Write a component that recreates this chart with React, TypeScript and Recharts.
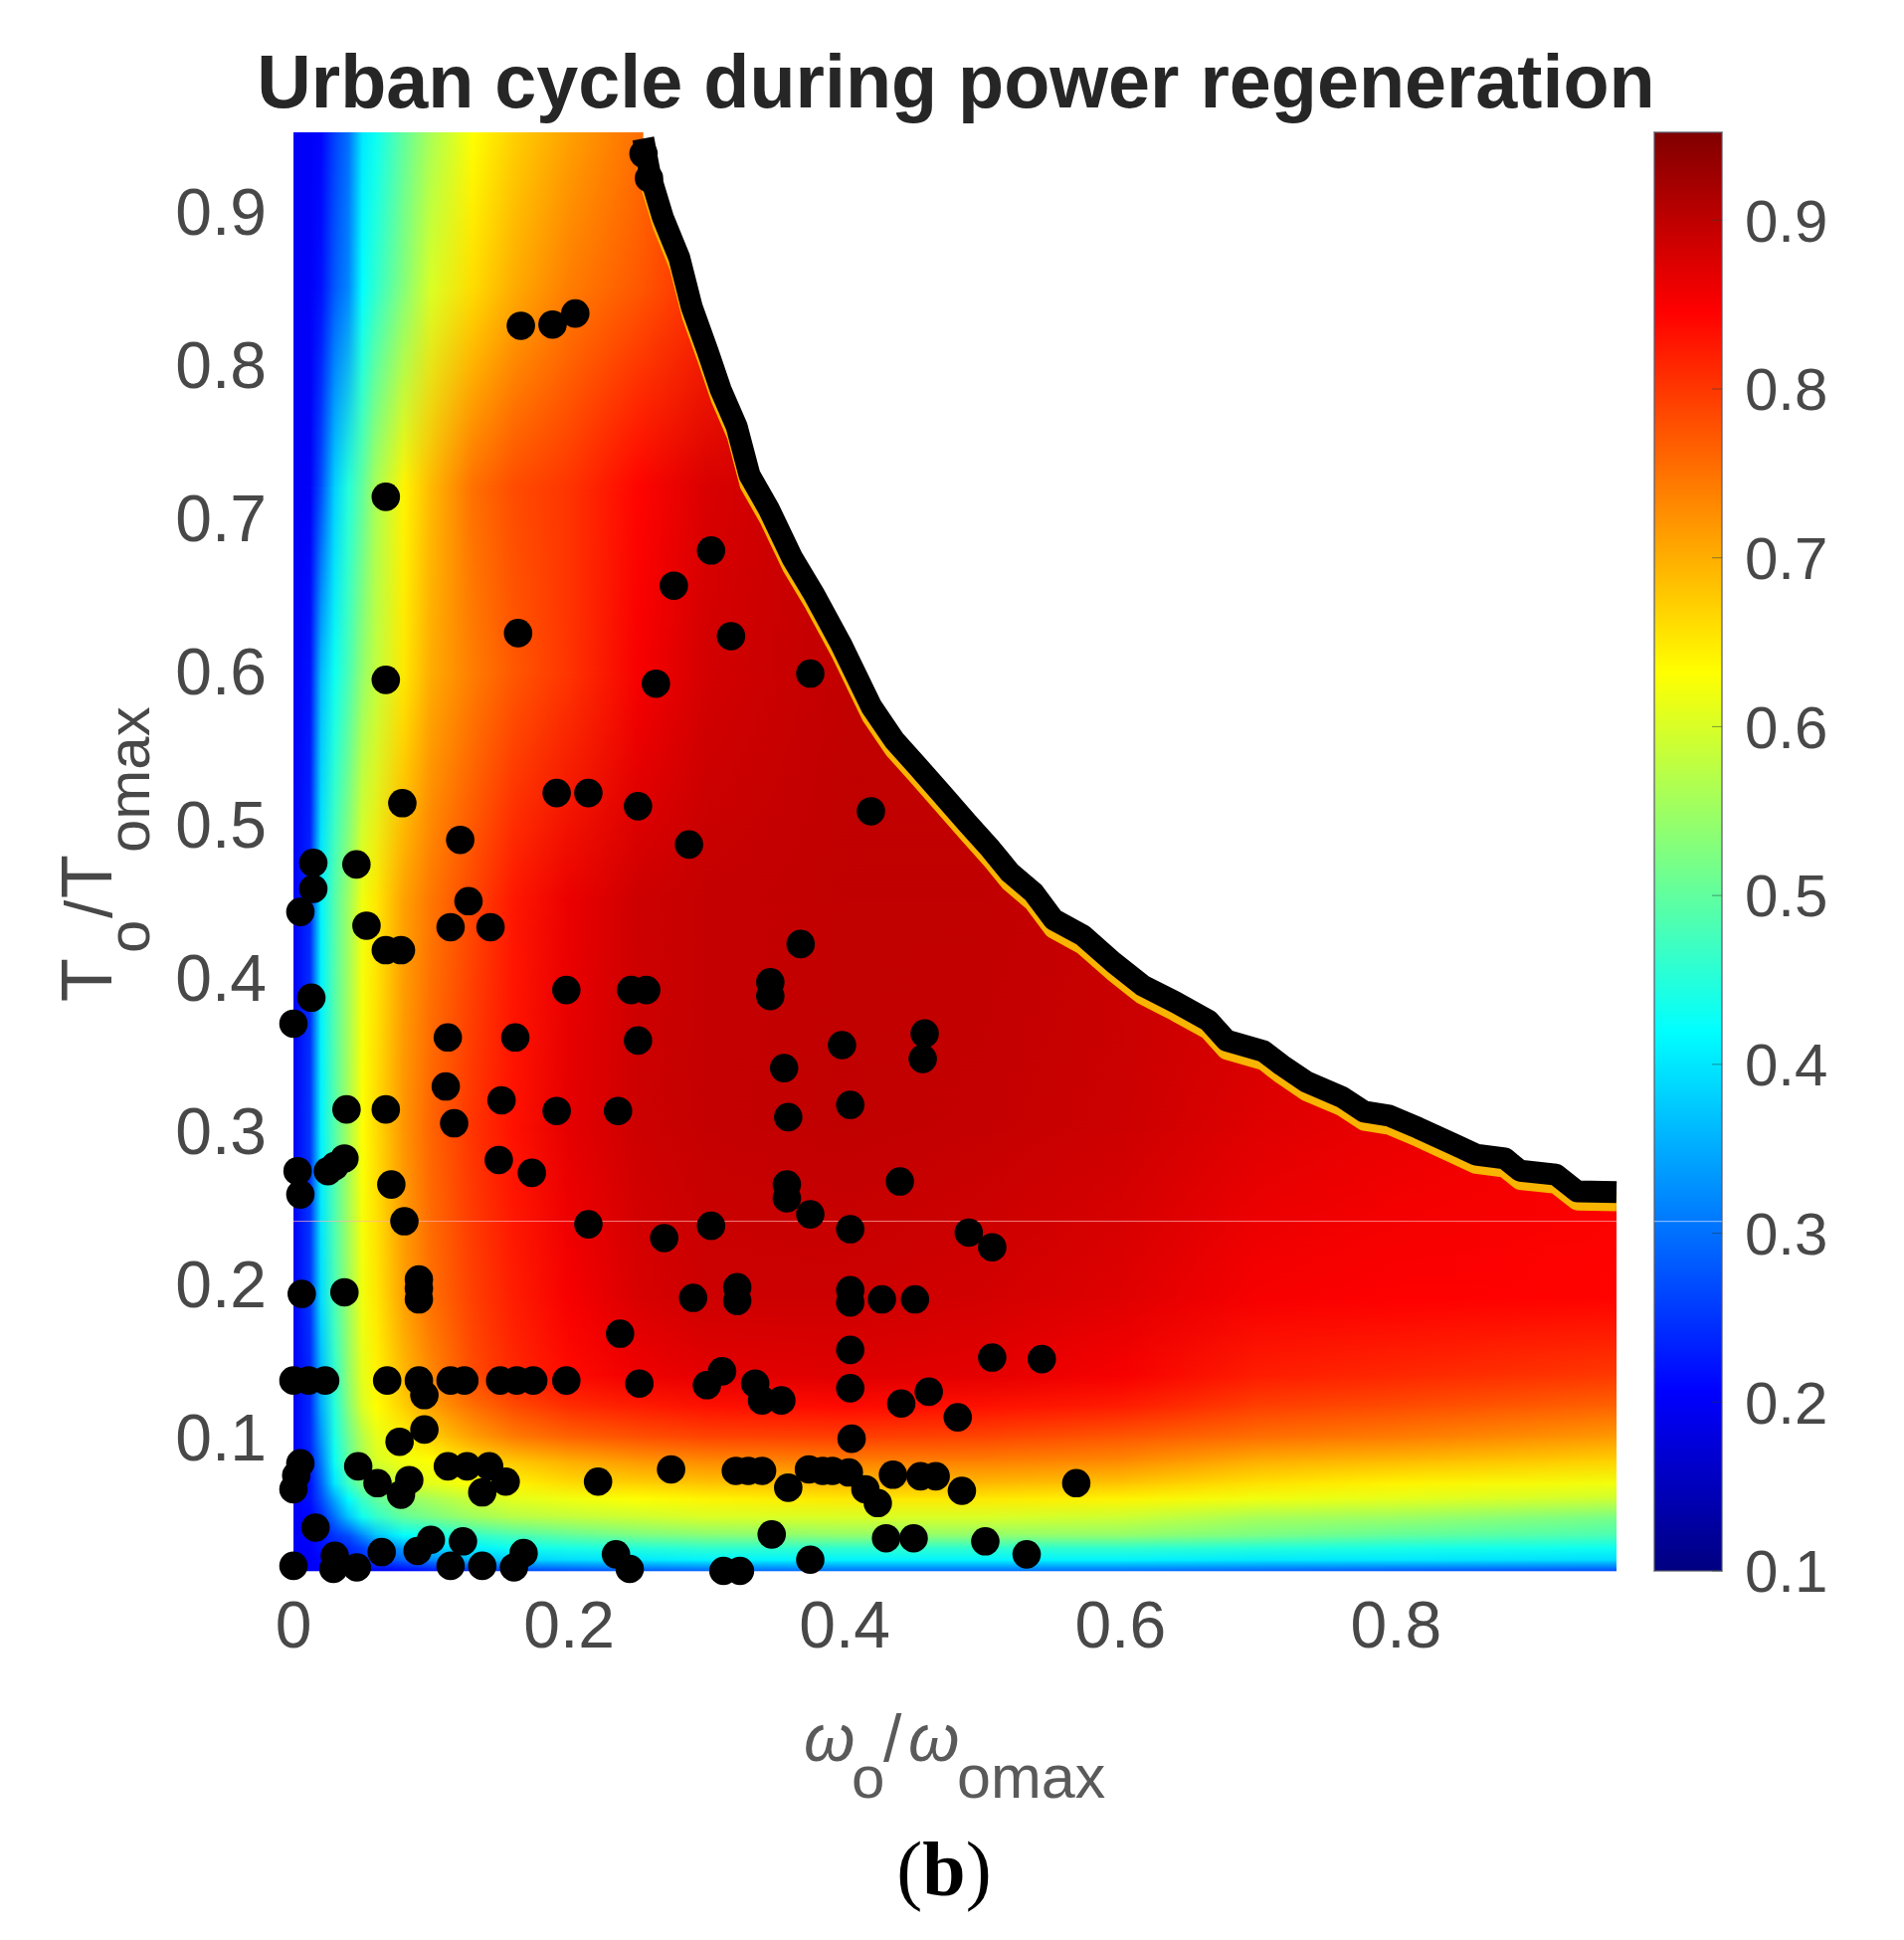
import { Area, Bar, ComposedChart, Line, ReferenceArea, ReferenceLine, Scatter, XAxis, YAxis } from 'recharts';

const FONT = '"Liberation Sans", Arial, sans-serif';
const TICK_COLOR = '#484848';

const xTicks = [0, 0.2, 0.4, 0.6, 0.8];
const yTicks = [0.1, 0.2, 0.3, 0.4, 0.5, 0.6, 0.7, 0.8, 0.9];
const barTicks = [0.1, 0.2, 0.3, 0.4, 0.5, 0.6, 0.7, 0.8, 0.9];
const barLevels = [0.1, 0.206, 0.313, 0.419, 0.525, 0.631, 0.737, 0.844, 0.95];

// speed grid of the efficiency map
const speedGrid = [0, 0.012, 0.02, 0.03, 0.04, 0.05, 0.06, 0.08, 0.1, 0.13, 0.16, 0.2, 0.25, 0.3, 0.4, 0.5, 0.6, 0.7, 0.8, 0.96];
// torque grid of the efficiency map
const torqueGrid = [0.0129, 0.02, 0.028, 0.036, 0.048, 0.06, 0.07, 0.085, 0.1, 0.12, 0.14, 0.19, 0.3, 0.45, 0.6, 0.72, 0.85, 0.952];
const efficiency = [
  [0.2, 0.2, 0.2, 0.2, 0.2, 0.2, 0.2, 0.21, 0.22, 0.24, 0.26, 0.27, 0.28, 0.29, 0.3, 0.3, 0.3, 0.29, 0.28, 0.27],
  [0.2, 0.2, 0.21, 0.22, 0.23, 0.24, 0.26, 0.29, 0.32, 0.36, 0.38, 0.39, 0.4, 0.41, 0.41, 0.41, 0.41, 0.4, 0.4, 0.39],
  [0.2, 0.2, 0.22, 0.23, 0.24, 0.26, 0.29, 0.34, 0.38, 0.41, 0.43, 0.44, 0.45, 0.46, 0.46, 0.46, 0.46, 0.45, 0.44, 0.43],
  [0.2, 0.21, 0.22, 0.25, 0.27, 0.32, 0.37, 0.42, 0.43, 0.46, 0.48, 0.5, 0.52, 0.53, 0.54, 0.54, 0.54, 0.52, 0.5, 0.48],
  [0.2, 0.21, 0.24, 0.3, 0.37, 0.43, 0.46, 0.5, 0.52, 0.55, 0.57, 0.58, 0.59, 0.6, 0.6, 0.6, 0.59, 0.56, 0.55, 0.52],
  [0.2, 0.22, 0.27, 0.35, 0.42, 0.47, 0.5, 0.54, 0.56, 0.59, 0.61, 0.62, 0.63, 0.64, 0.65, 0.65, 0.64, 0.62, 0.61, 0.59],
  [0.2, 0.22, 0.29, 0.4, 0.47, 0.52, 0.55, 0.6, 0.61, 0.63, 0.64, 0.66, 0.67, 0.68, 0.69, 0.69, 0.68, 0.655, 0.64, 0.62],
  [0.2, 0.23, 0.31, 0.43, 0.5, 0.56, 0.6, 0.62, 0.63, 0.66, 0.68, 0.7, 0.72, 0.73, 0.74, 0.74, 0.73, 0.7, 0.69, 0.67],
  [0.2, 0.24, 0.33, 0.44, 0.51, 0.57, 0.61, 0.64, 0.67, 0.71, 0.74, 0.76, 0.775, 0.785, 0.79, 0.785, 0.77, 0.75, 0.74, 0.715],
  [0.2, 0.24, 0.35, 0.45, 0.53, 0.6, 0.63, 0.67, 0.71, 0.75, 0.78, 0.805, 0.82, 0.83, 0.835, 0.83, 0.82, 0.79, 0.78, 0.76],
  [0.2, 0.24, 0.36, 0.46, 0.54, 0.61, 0.64, 0.69, 0.73, 0.78, 0.81, 0.835, 0.855, 0.865, 0.87, 0.865, 0.85, 0.82, 0.81, 0.795],
  [0.2, 0.25, 0.39, 0.48, 0.55, 0.62, 0.65, 0.71, 0.75, 0.79, 0.82, 0.85, 0.875, 0.885, 0.885, 0.88, 0.87, 0.85, 0.845, 0.84],
  [0.2, 0.25, 0.41, 0.49, 0.56, 0.63, 0.66, 0.72, 0.76, 0.8, 0.83, 0.865, 0.885, 0.892, 0.895, 0.892, 0.885, 0.87, 0.86, 0.85],
  [0.2, 0.24, 0.41, 0.49, 0.55, 0.62, 0.65, 0.71, 0.745, 0.785, 0.825, 0.86, 0.885, 0.892, 0.895, 0.895, 0.89, 0.885, 0.875, 0.865],
  [0.2, 0.22, 0.36, 0.43, 0.48, 0.54, 0.58, 0.65, 0.7, 0.74, 0.77, 0.8, 0.85, 0.88, 0.895, 0.895, 0.89, 0.89, 0.88, 0.87],
  [0.2, 0.2, 0.27, 0.38, 0.45, 0.5, 0.56, 0.64, 0.69, 0.75, 0.78, 0.8, 0.84, 0.875, 0.895, 0.895, 0.89, 0.89, 0.88, 0.87],
  [0.2, 0.2, 0.22, 0.28, 0.32, 0.42, 0.46, 0.53, 0.6, 0.66, 0.7, 0.74, 0.77, 0.81, 0.87, 0.88, 0.88, 0.88, 0.88, 0.87],
  [0.2, 0.2, 0.21, 0.26, 0.3, 0.4, 0.43, 0.5, 0.56, 0.63, 0.67, 0.71, 0.75, 0.8, 0.85, 0.87, 0.87, 0.87, 0.87, 0.87],
];

// maximum torque envelope
const limitSpeed = [0.2538, 0.2588, 0.268, 0.28, 0.289, 0.3006, 0.31, 0.3216, 0.331, 0.345, 0.362, 0.378, 0.397, 0.4194, 0.436, 0.453, 0.47, 0.489, 0.506, 0.52, 0.537, 0.5516, 0.573, 0.595, 0.616, 0.64, 0.664, 0.677, 0.704, 0.717, 0.735, 0.761, 0.777, 0.795, 0.816, 0.8425, 0.858, 0.879, 0.89, 0.916, 0.9315, 0.96];
const limitTorque = [0.948, 0.924, 0.8966, 0.87, 0.838, 0.809, 0.784, 0.76, 0.728, 0.706, 0.674, 0.65, 0.6185, 0.577, 0.555, 0.538, 0.5206, 0.501, 0.484, 0.4686, 0.4556, 0.438, 0.4275, 0.41, 0.395, 0.384, 0.372, 0.359, 0.352, 0.343, 0.332, 0.322, 0.3125, 0.31, 0.302, 0.291, 0.2845, 0.282, 0.274, 0.2715, 0.2605, 0.26];

// operating points of the urban cycle
const pointSpeed = [
  0, 0.011, 0.023, 0.068, 0.091, 0.095, 0.114, 0.124, 0.15, 0.162, 0.174, 0.198, 0.251, 0.237, 0.311, 0.3,
  0.095, 0.077, 0.005, 0.002, 0, 0.047, 0.061, 0.078, 0.084, 0.112, 0.126, 0.142, 0.154, 0.137, 0.221, 0.274,
  0.016, 0, 0.03, 0.029, 0.046, 0.064, 0.0997, 0.09, 0.123, 0.114, 0.137, 0.167, 0.16, 0.234, 0.244, 0.312, 0.324,
  0.006, 0.037, 0.091, 0.091, 0.091, 0.29, 0.322, 0.322, 0.404, 0.404, 0.427, 0.451,
  0.404, 0.507, 0.543, 0.335, 0.34, 0.354, 0.404, 0.441, 0.461, 0.482, 0.405,
  0.321, 0.33, 0.34, 0.359, 0.374, 0.384, 0.391, 0.403, 0.415, 0.424, 0.435, 0.455, 0.466, 0.485, 0.568,
  0.347, 0.43, 0.45, 0.502, 0.532, 0.375,
  0.013, 0, 0.245, 0.256, 0.198, 0.112, 0.161, 0.25, 0.0385, 0.067, 0.1105, 0.151, 0.1166, 0.191, 0.2355,
  0.149, 0.173, 0.003, 0.005, 0.025, 0.037, 0.03, 0.071, 0.0805, 0.214, 0.269, 0.303,
  0.398, 0.458, 0.4566, 0.356, 0.404, 0.359, 0.358, 0.358, 0.44, 0.375, 0.404, 0.49, 0.507,
  0.079, 0.121, 0.191, 0.214, 0.25, 0.287, 0.0144, 0.0457, 0.0144, 0.005, 0.053, 0.067, 0.078, 0.127, 0.114, 0.143,
  0.419, 0.368, 0.346, 0.346,
  0.165, 0.188, 0.2045, 0.067, 0.067, 0.163, 0.3175, 0.303, 0.276, 0.263, 0.375, 0.254, 0.258,
];
const pointTorque = [
  0.137, 0.137, 0.137, 0.137, 0.137, 0.1275, 0.137, 0.137, 0.137, 0.137, 0.137, 0.137, 0.135, 0.1676, 0.143, 0.134,
  0.105, 0.097, 0.083, 0.075, 0.066, 0.081, 0.07, 0.0625, 0.072, 0.081, 0.081, 0.081, 0.071, 0.064, 0.071, 0.079,
  0.041, 0.016, 0.0225, 0.014, 0.015, 0.025, 0.033, 0.0257, 0.032, 0.016, 0.016, 0.0243, 0.015, 0.0235, 0.014, 0.0127, 0.0127,
  0.1936, 0.1946, 0.203, 0.197, 0.19, 0.191, 0.198, 0.189, 0.196, 0.188, 0.19, 0.19,
  0.157, 0.152, 0.151, 0.135, 0.124, 0.124, 0.132, 0.122, 0.1297, 0.113, 0.099,
  0.078, 0.078, 0.078, 0.067, 0.079, 0.078, 0.078, 0.077, 0.066, 0.057, 0.0755, 0.0745, 0.0745, 0.065, 0.07,
  0.0365, 0.034, 0.034, 0.032, 0.0235, 0.02,
  0.387, 0.37, 0.392, 0.392, 0.392, 0.361, 0.361, 0.359, 0.314, 0.314, 0.329, 0.32, 0.305, 0.313, 0.313,
  0.281, 0.2726, 0.2737, 0.2585, 0.2737, 0.282, 0.277, 0.265, 0.241, 0.239, 0.23, 0.238,
  0.356, 0.3636, 0.347, 0.341, 0.317, 0.309, 0.265, 0.256, 0.267, 0.2455, 0.2358, 0.2336, 0.224,
  0.514, 0.49, 0.5206, 0.5206, 0.512, 0.487, 0.475, 0.474, 0.458, 0.443, 0.434, 0.418, 0.418, 0.45, 0.433, 0.433,
  0.5087, 0.422, 0.397, 0.388,
  0.8257, 0.8265, 0.8337, 0.714, 0.5945, 0.625, 0.623, 0.679, 0.656, 0.592, 0.5986, 0.938, 0.922,
];

const points = pointSpeed.map((x, i) => ({ x, y: pointTorque[i] }));
const limit = limitSpeed.map((x, i) => ({ x, y: limitTorque[i] }));
const barData = [{ name: 'efficiency', range: [0.1, 0.952] }];

function jet(v: number) {
  const t = Math.min(1, Math.max(0, (v - 0.1) / 0.85));
  const c = (a: number) => Math.round(255 * Math.min(1, Math.max(0, 1.5 - Math.abs(4 * t - a))));
  return `rgb(${c(3)},${c(2)},${c(1)})`;
}

// one torque band, the second layer fades in the next row of the table
function heatBand(fill: string, mask?: string) {
  return (p: any) => <rect x={p.x} y={p.y} width={p.width} height={p.height + 0.6} fill={fill} mask={mask} />;
}

function Dot({ cx, cy }: any) {
  return <circle cx={cx} cy={cy} r={14.3} fill="#000" />;
}

export default function App() {
  const tickStyle = { fontSize: 66, fill: TICK_COLOR, fontFamily: FONT };
  const barTickStyle = { fontSize: 60, fill: TICK_COLOR, fontFamily: FONT };
  const xMax = speedGrid[speedGrid.length - 1];
  const yMax = torqueGrid[torqueGrid.length - 1];

  return (
    <div style={{ position: 'relative', width: 1914, height: 1950, margin: -8, background: '#fff', overflow: 'hidden' }}>
      <div style={{ position: 'absolute', left: 0, top: 0, filter: 'blur(0.7px)' }}>
        <ComposedChart width={1914} height={1950} margin={{ top: 133, right: 289, bottom: 271, left: 195 }}>
          <defs>
            {efficiency.map((row, i) => (
              <linearGradient key={i} id={`heat${i}`} x1="0" y1="0" x2="1" y2="0">
                {row.map((v, j) => (
                  <stop key={j} offset={speedGrid[j] / xMax} stopColor={jet(v)} />
                ))}
              </linearGradient>
            ))}
            <linearGradient id="fadeUp" x1="0" y1="1" x2="0" y2="0">
              <stop offset="0" stopColor="#000" />
              <stop offset="1" stopColor="#fff" />
            </linearGradient>
            <mask id="fadeMask" maskUnits="objectBoundingBox" maskContentUnits="objectBoundingBox" x="0" y="0" width="1" height="1">
              <rect x="0" y="0" width="1" height="1" fill="url(#fadeUp)" />
            </mask>
          </defs>
          <XAxis
            type="number"
            dataKey="x"
            domain={[0, xMax]}
            ticks={xTicks}
            interval={0}
            height={100}
            axisLine={false}
            tickLine={false}
            tickSize={0}
            tickMargin={30}
            tick={tickStyle}
            tickFormatter={(v: number) => String(v)}
          />
          <YAxis
            type="number"
            dataKey="y"
            domain={[torqueGrid[0], yMax]}
            ticks={yTicks}
            interval={0}
            width={100}
            axisLine={false}
            tickLine={false}
            tickSize={0}
            tickMargin={27}
            tick={tickStyle}
          />
          {torqueGrid.slice(0, -1).map((y, i) => [
            <ReferenceArea key={`a${i}`} x1={0} x2={xMax} y1={y} y2={torqueGrid[i + 1]} shape={heatBand(`url(#heat${i})`)} />,
            <ReferenceArea key={`b${i}`} x1={0} x2={xMax} y1={y} y2={torqueGrid[i + 1]} shape={heatBand(`url(#heat${i + 1})`, 'url(#fadeMask)')} />,
          ])}
          <ReferenceLine y={0.241} stroke="#ffb0b0" strokeOpacity={0.7} strokeWidth={1} />
          <Area
            data={limit}
            dataKey={(d: any) => [d.y, yMax]}
            type="linear"
            stroke="none"
            fill="#fff"
            fillOpacity={1}
            isAnimationActive={false}
            dot={false}
            activeDot={false}
          />
          <Line
            data={limit}
            dataKey={(d: any) => d.y - 0.006}
            type="linear"
            stroke="#f8b400"
            strokeWidth={20}
            strokeLinejoin="round"
            dot={false}
            activeDot={false}
            isAnimationActive={false}
          />
          <Line
            data={limit}
            dataKey="y"
            type="linear"
            stroke="#000"
            strokeWidth={22}
            strokeLinejoin="round"
            dot={false}
            activeDot={false}
            isAnimationActive={false}
          />
          <Scatter data={points} dataKey="y" shape={<Dot />} isAnimationActive={false} />
          <text x={961} y={108} textAnchor="middle" fontFamily={FONT} fontWeight="bold" fontSize={75.5} fill="#262626">
            Urban cycle during power regeneration
          </text>
          <text fontFamily={FONT} fill="#5a5a5a" y={1770}>
            <tspan x={808} fontSize={66} fontStyle="italic">ω</tspan>
            <tspan x={856} dy={37} fontSize={60}>o</tspan>
            <tspan x={888} dy={-37} fontSize={66}>/</tspan>
            <tspan x={913} fontSize={66} fontStyle="italic">ω</tspan>
            <tspan x={962} dy={37} fontSize={61}>omax</tspan>
          </text>
          <text transform="translate(112,1007) rotate(-90)" fontFamily={FONT} fill="#484848">
            <tspan x={0} fontSize={72}>T</tspan>
            <tspan x={49} dy={38} fontSize={60}>o</tspan>
            <tspan x={84} dy={-38} fontSize={66}>/</tspan>
            <tspan x={104} fontSize={72}>T</tspan>
            <tspan x={150} dy={38} fontSize={60}>omax</tspan>
          </text>
        </ComposedChart>
      </div>

      <div style={{ position: 'absolute', left: 0, top: 0, filter: 'blur(0.7px)' }}>
        <ComposedChart width={1914} height={1950} margin={{ top: 133, right: 0, bottom: 371, left: 1663 }} data={barData} barCategoryGap={0}>
          <defs>
            <linearGradient id="jetBar" x1="0" y1="1" x2="0" y2="0">
              {barLevels.map((v, i) => (
                <stop key={i} offset={(v - 0.1) / 0.85} stopColor={jet(v)} />
              ))}
            </linearGradient>
          </defs>
          <XAxis dataKey="name" hide height={0} />
          <YAxis
            type="number"
            orientation="right"
            domain={[0.1, 0.952]}
            ticks={barTicks}
            interval={0}
            width={183}
            axisLine={false}
            tickLine={{ stroke: '#203838', strokeOpacity: 0.5 }}
            tickSize={-10}
            tickMargin={33}
            tick={barTickStyle}
          />
          <Bar dataKey="range" fill="url(#jetBar)" stroke="#556" strokeOpacity={0.6} strokeWidth={2} isAnimationActive={false} />
          <ReferenceLine y={0.307} stroke="#9ac4ff" strokeWidth={1} />
        </ComposedChart>
      </div>

      <div
        style={{
          position: 'absolute',
          left: -8,
          width: 1914,
          top: 1834,
          textAlign: 'center',
          fontFamily: '"Liberation Serif", serif',
          fontSize: 78,
          lineHeight: '90px',
          color: '#000',
        }}
      >
        (<b>b</b>)
      </div>
    </div>
  );
}
